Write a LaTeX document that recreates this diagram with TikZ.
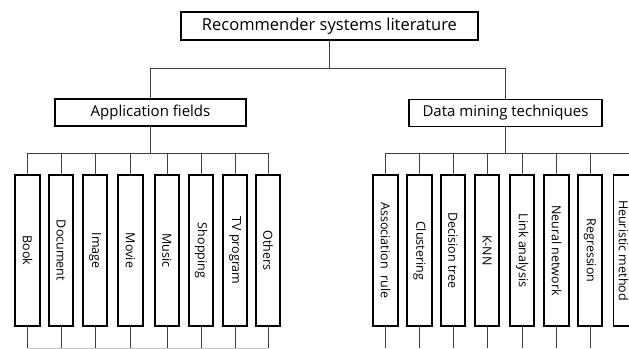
\documentclass[tikz,border=0pt]{standalone}
\usepackage{fontspec}
\setmainfont{Open Sans}
\begin{document}
\begin{tikzpicture}[x=1pt,y=-1pt,
  box/.style={draw=black, line width=1.8pt, fill=white, inner sep=0pt},
  head/.style={box, minimum height=27pt, font=\fontsize{15}{17}\selectfont},
  leaf/.style={box, minimum width=24.5pt, minimum height=151pt, font=\fontsize{12.5}{14}\selectfont},
  conn/.style={draw=gray!50!black, line width=0.9pt},
  faint/.style={draw=gray!45, line width=0.7pt}]
\useasboundingbox (0,0) rectangle (629,348);
\clip (0,0) rectangle (629,348);

% top level
\node[box, minimum width=297pt, minimum height=28pt, font=\fontsize{16.5}{19}\selectfont] (top) at (329.5,26) {Recommender systems literature};
\node[head, minimum width=191pt] (app) at (150.5,112.5) {Application fields};
\node[head, minimum width=193pt] (dm) at (505.5,113) {Data mining techniques};

% application leaves
\node[leaf] (book) at (27.5,250.5) {\rotatebox{-90}{Book}};
\node[leaf] (doc) at (61,250.5) {\rotatebox{-90}{Document}};
\node[leaf] (img) at (95,250.5) {\rotatebox{-90}{Image}};
\node[leaf] (movie) at (130.5,250.5) {\rotatebox{-90}{Movie}};
\node[leaf] (music) at (167,250.5) {\rotatebox{-90}{Music}};
\node[leaf] (shop) at (201,250.5) {\rotatebox{-90}{Shopping}};
\node[leaf] (tv) at (235,250.5) {\rotatebox{-90}{TV program}};
\node[leaf] (oth) at (268,250.5) {\rotatebox{-90}{Others}};

% technique leaves
\node[leaf] (assoc) at (385.5,250.5) {\rotatebox{-90}{Association\hspace{0.55em}rule}};
\node[leaf] (clus) at (419.5,250.5) {\rotatebox{-90}{Clustering}};
\node[leaf] (dtree) at (453,250.5) {\rotatebox{-90}{Decision tree}};
\node[leaf] (knn) at (487,250.5) {\rotatebox{-90}{K-NN}};
\node[leaf] (link) at (522,250.5) {\rotatebox{-90}{Link analysis}};
\node[leaf] (neur) at (556.5,250.5) {\rotatebox{-90}{Neural network}};
\node[leaf] (regr) at (590,250.5) {\rotatebox{-90}{Regression}};
\node[leaf, minimum width=37pt] (heur) at (632,250.5) {\hspace*{-17pt}\rotatebox{-90}{Heuristic method}};

% top connectors
\coordinate (j) at (329.5,68);
\draw[conn] (top.south) -- (j);
\draw[conn] (app.north) |- (j);
\draw[conn] (dm.north) |- (j);

% buses
\coordinate (bot) at (0,348);
\draw[conn] (app.south) -- ++(0,27) coordinate (lb);
\foreach \n in {book,doc,img,movie,music,shop,tv,oth}{
  \draw[conn] (lb) -| (\n.north);
  \draw[conn] (\n.south) -- (\n.south |- bot);
}
\draw[faint] ([yshift=-0.5pt]book.south |- bot) -- ([yshift=-0.5pt]oth.south |- bot);

\draw[conn] (dm.south) -- ++(0,26) coordinate (rb);
\foreach \n in {assoc,clus,dtree,knn,link,neur,regr,heur}{
  \draw[conn] (rb) -| (\n.north);
  \draw[conn] (\n.south) -- (\n.south |- bot);
}
\end{tikzpicture}
\end{document}
